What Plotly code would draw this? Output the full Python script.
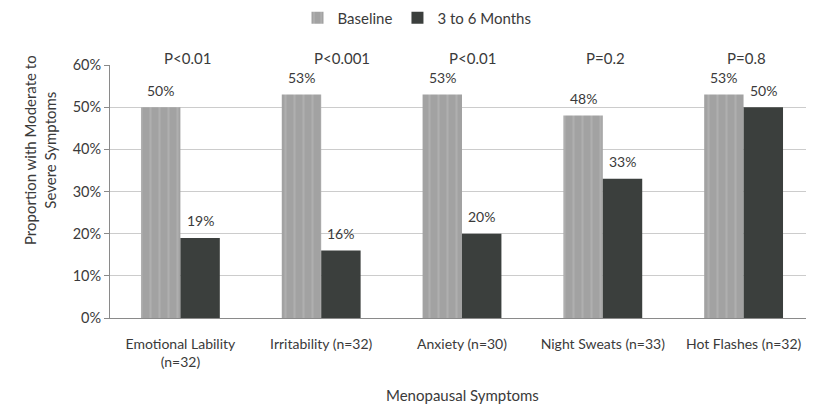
import plotly.graph_objects as go

categories = ["Emotional Lability<br>(n=32)", "Irritability (n=32)", "Anxiety (n=30)",
              "Night Sweats (n=33)", "Hot Flashes (n=32)"]
baseline = [0.50, 0.53, 0.53, 0.48, 0.53]
followup = [0.19, 0.16, 0.20, 0.33, 0.50]
p_values = ["P<0.01", "P<0.001", "P<0.01", "P=0.2", "P=0.8"]
y_ticks = [0, 0.1, 0.2, 0.3, 0.4, 0.5, 0.6]
y_tick_labels = ["0%", "10%", "20%", "30%", "40%", "50%", "60%"]

FONT = "Lato, Open Sans, sans-serif"
TXT = "#3a3a3a"

# The page body has an 8px margin, so the figure is drawn 8px right/down.
OFF = 8
W, H = 814 - OFF, 406 - OFF
L, T = 110 - OFF, 65 - OFF
B = H - (318 - OFF)
R = 0
plot_h = H - T - B
plot_w = W - L - R
X_RANGE = [-0.5, 4.5]
px_per_cat = plot_w / (X_RANGE[1] - X_RANGE[0])
BARGAP = 0.44
half_bar = (1 - BARGAP) / 4 * px_per_cat

fig = go.Figure()
fig.add_trace(go.Bar(
    name="Baseline", x=categories, y=baseline,
    marker=dict(color="#a2a2a2", line=dict(width=0),
                pattern=dict(shape="|", fgcolor="#bcbcbc", size=9, solidity=0.22)),
))
fig.add_trace(go.Bar(
    name="3 to 6 Months", x=categories, y=followup,
    marker=dict(color="#3b3f3d", line=dict(width=0)),
))

# value labels above the bars
for vals, sgn in ((baseline, -1), (followup, 1)):
    for c, v in zip(categories, vals):
        fig.add_annotation(x=c, y=v, xshift=sgn * half_bar, yshift=17,
                           text=f"{round(v*100)}%", showarrow=False, yanchor="middle",
                           font=dict(size=14, color=TXT, family=FONT))

p_shift = [7, 21, 10, 3, 3]
for c, p, s in zip(categories, p_values, p_shift):
    fig.add_annotation(x=c, y=1, yref="paper", yshift=18, xshift=s,
                       text=p, showarrow=False,
                       font=dict(size=15, color=TXT, family=FONT))

# axis titles
fig.add_annotation(x=0.5, xref="paper", y=(318 - 395) / plot_h, yref="paper",
                   text="Menopausal Symptoms", showarrow=False, yanchor="middle",
                   font=dict(size=15, color=TXT, family=FONT))
fig.add_annotation(x=(40 - 110) / plot_w, xref="paper", y=(318 - 150) / plot_h, yref="paper",
                   text="Proportion with Moderate to<br>Severe Symptoms", showarrow=False,
                   textangle=-90, xanchor="center", yanchor="middle",
                   font=dict(size=15, color=TXT, family=FONT))

fig.update_layout(
    width=W, height=H,
    margin=dict(l=L, r=R, t=T, b=B, autoexpand=False),
    paper_bgcolor="white", plot_bgcolor="white",
    font=dict(family=FONT, size=15, color=TXT),
    barmode="group", bargap=BARGAP, bargroupgap=0,
    legend=dict(orientation="h", x=(417 - 110) / plot_w, xref="paper", xanchor="center",
                y=1 - (18 - OFF) / H, yref="container", yanchor="middle",
                font=dict(size=15, color=TXT, family=FONT),
                itemwidth=30, traceorder="normal"),
    showlegend=True,
)
fig.update_xaxes(
    range=X_RANGE, showline=True, linecolor="#8a8a8a", linewidth=1,
    ticks="", tickfont=dict(size=14, color=TXT, family=FONT), automargin=False,
    ticklabelstandoff=13,
)
fig.update_yaxes(
    range=[0, 0.6], tickvals=y_ticks, ticktext=y_tick_labels,
    showline=True, linecolor="#8a8a8a", linewidth=1,
    ticks="outside", ticklen=5, tickcolor="#8a8a8a",
    showgrid=True, gridcolor="#cccccc", gridwidth=1,
    tickfont=dict(size=14.5, color=TXT, family=FONT), automargin=False,
    zeroline=False,
)

fig.write_html("out.html")
